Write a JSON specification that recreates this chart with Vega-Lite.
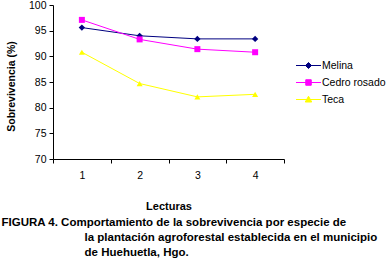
{
  "$schema": "https://vega.github.io/schema/vega-lite/v6.json",
  "autosize": {"type": "none"},
  "width": 231,
  "height": 154,
  "padding": {"left": 53, "top": 5, "right": 103, "bottom": 106},
  "background": "white",
  "config": {
    "font": "Liberation Sans",
    "view": {"stroke": null},
    "axis": {"grid": false, "domainColor": "black", "tickColor": "black", "labelColor": "black", "titleColor": "black", "labelFontSize": 10.5, "tickSize": 4, "labelFont": "Liberation Sans", "titleFont": "Liberation Sans"}
  },
  "title": {
    "text": [
      "FIGURA 4. Comportamiento de la sobrevivencia por especie de",
      "\u200b\u00a0\u00a0\u00a0\u00a0\u00a0\u00a0\u00a0\u00a0\u00a0\u00a0\u00a0\u00a0\u00a0\u00a0\u00a0\u00a0\u00a0\u00a0\u00a0\u00a0\u00a0\u00a0\u00a0\u00a0\u00a0\u00a0la plantación agroforestal establecida en el municipio",
      "\u200b\u00a0\u00a0\u00a0\u00a0\u00a0\u00a0\u00a0\u00a0\u00a0\u00a0\u00a0\u00a0\u00a0\u00a0\u00a0\u00a0\u00a0\u00a0\u00a0\u00a0\u00a0\u00a0\u00a0\u00a0\u00a0\u00a0de Huehuetla, Hgo."
    ],
    "orient": "bottom",
    "anchor": "start",
    "frame": "bounds",
    "font": "Liberation Sans",
    "fontSize": 11.5,
    "fontWeight": "bold",
    "color": "black",
    "lineHeight": 15,
    "offset": 5,
    "dx": -5
  },
  "data": {
    "values": [
      {"lectura": 1, "especie": "Melina", "valor": 95.6},
      {"lectura": 2, "especie": "Melina", "valor": 94.0},
      {"lectura": 3, "especie": "Melina", "valor": 93.4},
      {"lectura": 4, "especie": "Melina", "valor": 93.4},
      {"lectura": 1, "especie": "Cedro rosado", "valor": 97.1},
      {"lectura": 2, "especie": "Cedro rosado", "valor": 93.3},
      {"lectura": 3, "especie": "Cedro rosado", "valor": 91.4},
      {"lectura": 4, "especie": "Cedro rosado", "valor": 90.8},
      {"lectura": 1, "especie": "Teca", "valor": 90.8},
      {"lectura": 2, "especie": "Teca", "valor": 84.7},
      {"lectura": 3, "especie": "Teca", "valor": 82.1},
      {"lectura": 4, "especie": "Teca", "valor": 82.6}
    ]
  },
  "encoding": {
    "x": {
      "field": "lectura", "type": "ordinal",
      "scale": {"type": "band", "paddingInner": 0, "paddingOuter": 0},
      "axis": {"labelAngle": 0, "tickBand": "extent", "title": "Lecturas", "titleFontSize": 11, "titleFontWeight": "bold", "labelPadding": 7, "titlePadding": 20}
    },
    "y": {
      "field": "valor", "type": "quantitative",
      "scale": {"domain": [70, 100], "zero": false},
      "axis": {"values": [70, 75, 80, 85, 90, 95, 100], "title": "Sobrevivencia (%)", "titleFontSize": 10.5, "titleFontWeight": "bold", "labelPadding": 3, "titlePadding": 12, "titleY": 81}
    },
    "color": {
      "field": "especie", "type": "nominal",
      "scale": {"domain": ["Melina", "Cedro rosado", "Teca"], "range": ["#000080", "#FF00FF", "#FFFF00"]},
      "legend": {
        "title": null,
        "orient": "none",
        "legendX": 250,
        "legendY": 55,
        "labelFontSize": 10.5,
        "labelColor": "black",
        "labelFont": "Liberation Sans",
        "symbolSize": 100,
        "labelOffset": 8,
        "rowPadding": 6,
        "padding": 0,
        "encode": {
          "symbols": {
            "update": {
              "shape": [
                {"test": "datum.value === 'Melina'", "value": "M-2.5,0L2.5,0M0,-0.6L0.6,0L0,0.6L-0.6,0Z"},
                {"test": "datum.value === 'Cedro rosado'", "value": "M-2.5,0L2.5,0M-0.55,-0.55L0.55,-0.55L0.55,0.55L-0.55,0.55Z"},
                {"value": "M-2.5,0L2.5,0M-0.65,0.5L0.65,0.5L0,-0.65Z"}
              ],
              "fill": {"scale": "color", "field": "value"},
              "stroke": {"scale": "color", "field": "value"},
              "strokeWidth": {"value": 1},
              "fillOpacity": {"value": 1},
              "opacity": {"value": 1}
            }
          }
        }
      }
    }
  },
  "layer": [
    {"mark": {"type": "line", "strokeWidth": 1}},
    {
      "transform": [{"filter": "datum.especie === 'Melina'"}],
      "mark": {"type": "point", "shape": "diamond", "filled": true, "size": 40, "opacity": 1}
    },
    {
      "transform": [{"filter": "datum.especie === 'Cedro rosado'"}],
      "mark": {"type": "point", "shape": "square", "filled": true, "size": 36, "opacity": 1}
    },
    {
      "transform": [{"filter": "datum.especie === 'Teca'"}],
      "mark": {"type": "point", "shape": "triangle-up", "filled": true, "size": 36, "opacity": 1}
    }
  ]
}
